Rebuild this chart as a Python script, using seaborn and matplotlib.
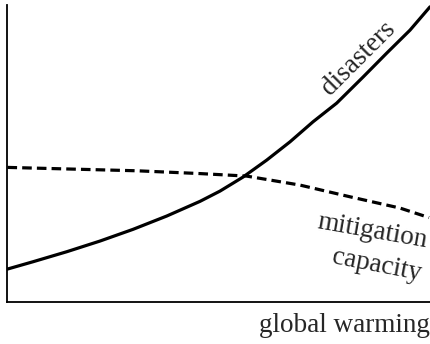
import matplotlib
matplotlib.use("Agg")
import matplotlib.pyplot as plt
import seaborn as sns
import pandas as pd

# Schematic curves: disasters rise with warming, mitigation capacity declines
warming_disasters = [0.0, 0.602, 1.398, 2.184, 2.963, 3.759, 4.545, 5.018,
                     5.561, 6.121, 6.671, 7.214, 7.773, 8.394, 8.954, 9.504, 9.976]
disasters = [1.111, 1.357, 1.694, 2.054, 2.448, 2.896, 3.391, 3.737,
             4.209, 4.781, 5.397, 6.071, 6.700, 7.576, 8.384, 9.158, 9.943]

warming_capacity = [0.0, 3.058, 4.545, 5.648, 6.907, 8.087, 9.268, 9.953]
capacity = [4.535, 4.421, 4.327, 4.242, 3.939, 3.545, 3.165, 2.845]

df_d = pd.DataFrame({"warming": warming_disasters, "value": disasters})
df_c = pd.DataFrame({"warming": warming_capacity, "value": capacity})

sns.set_style("white")
plt.rcParams["font.family"] = ["Liberation Serif", "DejaVu Serif"]

fig = plt.figure(figsize=(4.31, 3.44), dpi=100)
ax = fig.add_axes([0.0174, 0.122, 0.9826, 0.863])

sns.lineplot(data=df_d, x="warming", y="value", ax=ax, color="black",
             linewidth=2.3, estimator=None, sort=True)
sns.lineplot(data=df_c, x="warming", y="value", ax=ax, color="black",
             linewidth=2.3, estimator=None, sort=True)
ax.lines[1].set_dashes([3.0, 1.6])
for ln in ax.lines:
    ln.set_solid_joinstyle("round")
    ln.set_dash_joinstyle("round")

ax.set_xlim(0, 10)
ax.set_ylim(0, 10)
ax.set_xticks([])
ax.set_yticks([])
ax.set_ylabel("")
ax.set_xlabel("")
for side in ("top", "right"):
    ax.spines[side].set_visible(False)
for side in ("left", "bottom"):
    ax.spines[side].set_color("black")
    ax.spines[side].set_linewidth(1.3)

fs = 19.5
ax.text(8.3, 8.2, "disasters", rotation=45, fontsize=fs,
        ha="center", va="center", rotation_mode="anchor")
ax.text(8.62, 2.38, "mitigation", rotation=-10, fontsize=fs,
        ha="center", va="center", rotation_mode="anchor")
ax.text(8.72, 1.25, "capacity", rotation=-11, fontsize=fs,
        ha="center", va="center", rotation_mode="anchor")

fig.text(0.998, 0.035, "global warming", fontsize=fs, ha="right", va="baseline")

fig.savefig("out.png", dpi=100)
